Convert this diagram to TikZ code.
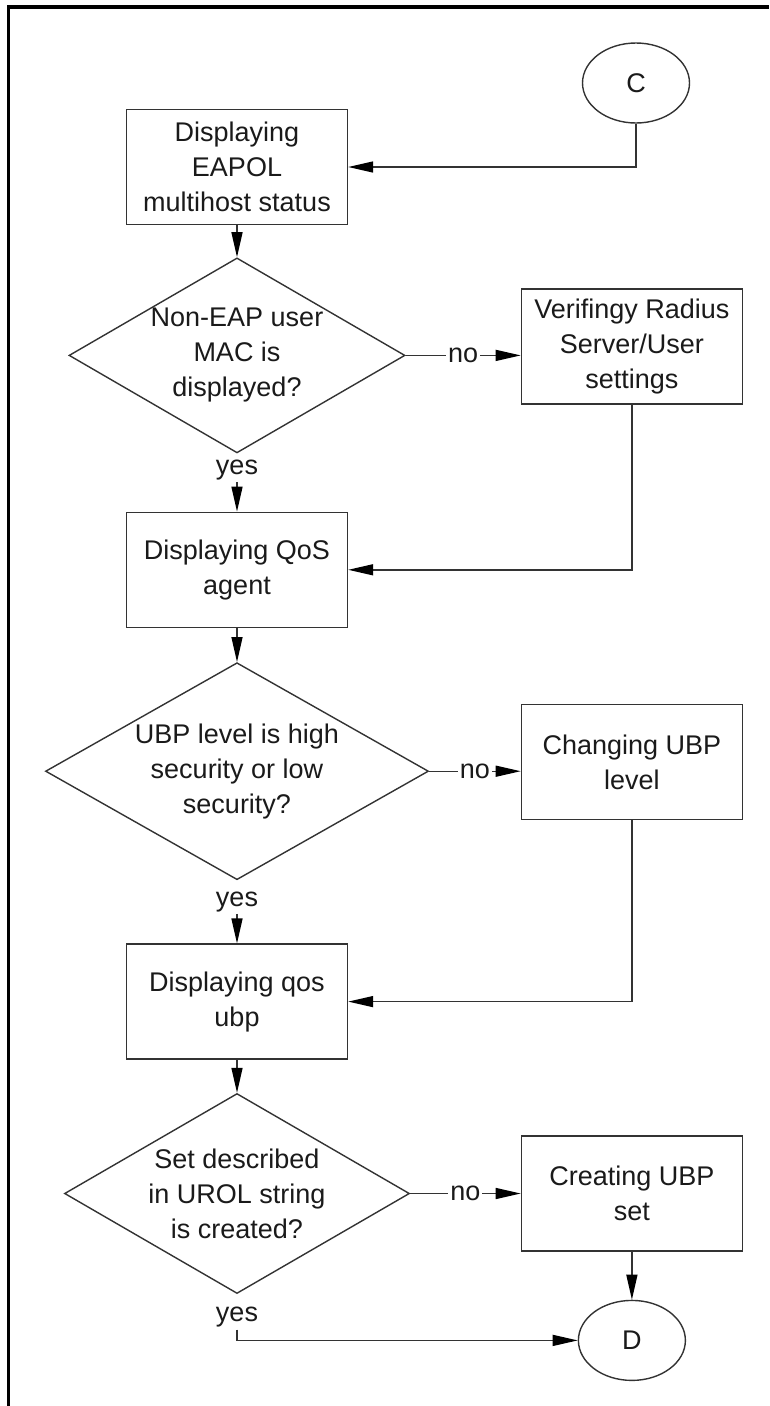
\documentclass[tikz,border=0pt]{standalone}
\usepackage{fontspec}
\setmainfont{Liberation Sans}
\usepackage{tikz}
\usetikzlibrary{arrows.meta, positioning, shapes.geometric}
\usepackage{xcolor}
\definecolor{linecol}{HTML}{333333}
\definecolor{txtcol}{HTML}{1A1A1A}

\begin{document}
\begin{tikzpicture}[x=1pt, y=-1pt, every node/.style={font=\fontsize{27}{35}\selectfont, text=txtcol},
      box/.style={draw=linecol, line width=1.4pt, minimum width=221pt, minimum height=115pt, align=center},
      dec/.style={diamond, draw=linecol, line width=1.4pt, inner sep=0pt},
      conn/.style={ellipse, draw=linecol, line width=1.4pt, minimum width=107pt, minimum height=80pt},
      lbl/.style={fill=white, inner sep=2pt},
      arr/.style={draw=linecol, line width=1.4pt, -{Triangle[length=25pt, width=11pt, color=black]}}]
    \useasboundingbox (0,0) rectangle (769,1406);
    % frame
    \draw[line width=3.5pt, miter limit=2] (8.5,1406) -- (8.5,7) -- (769,7);

    \node[conn] (C) at (636,83) {C};
    \node[box] (b1) at (237,167) {Displaying\\EAPOL\\multihost status};
    \node[dec, minimum width=336pt, minimum height=195pt, below=32pt of b1,
          label={[align=center]center:Non-EAP user\\MAC is\\displayed?}] (d1) {};
    \node[box, right=115pt of d1, yshift=9pt] (b2) {Verifingy Radius\\Server/User\\settings};
    \node[lbl, below=4pt of d1] (y1) {yes};
    \node[box, below=58pt of d1] (b3) {Displaying QoS\\agent};
    \node[dec, minimum width=383pt, minimum height=217pt, below=34pt of b3,
          label={[align=center]center:UBP level is high\\security or low\\security?}] (d2) {};
    \node[box, right=91.5pt of d2, yshift=9pt] (b4) {Changing UBP\\level};
    \node[lbl, below=9pt of d2] (y2) {yes};
    \node[box, below=63pt of d2] (b5) {Displaying qos\\ubp};
    \node[dec, minimum width=345pt, minimum height=200pt, below=33pt of b5,
          label={[align=center]center:Set described\\in UROL string\\is created?}] (d3) {};
    \node[box, right=110.5pt of d3] (b6) {Creating UBP\\set};
    \node[lbl, below=11pt of d3] (y3) {yes};
    \node[conn, below=48pt of b6] (D) {D};

    \draw[arr] (C) |- (b1);
    \draw[arr] (b1) -- (d1);
    \draw[arr] (d1.east) -- node[lbl] {no} (d1.east -| b2.west);
    \draw[arr] (y1) -- (b3);
    \draw[arr] (b2) |- (b3);
    \draw[arr] (b3) -- (d2);
    \draw[arr] (d2.east) -- node[lbl] {no} (d2.east -| b4.west);
    \draw[arr] (y2) -- (b5);
    \draw[arr] (b4) |- (b5);
    \draw[arr] (b5) -- (d3);
    \draw[arr] (d3.east) -- node[lbl] {no} (d3.east -| b6.west);
    \draw[arr] (b6) -- (D);
    \draw[arr] (y3) |- (D);
  \end{tikzpicture}
\end{document}
